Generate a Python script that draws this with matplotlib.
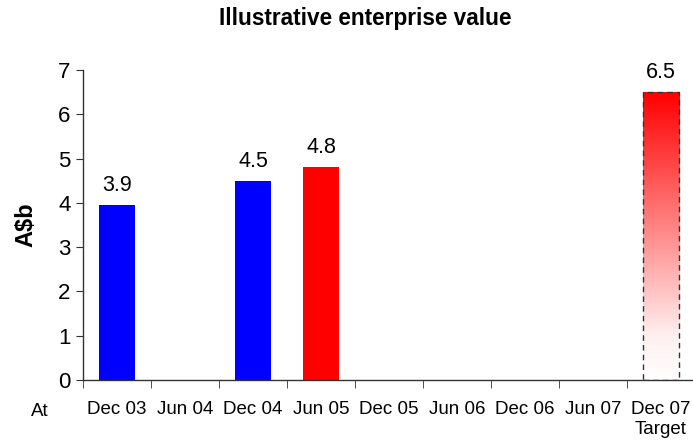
import matplotlib
matplotlib.use("Agg")
import matplotlib.pyplot as plt
import numpy as np
from matplotlib.colors import LinearSegmentedColormap

plt.rcParams['font.family'] = ['Liberation Sans', 'DejaVu Sans']

categories = ["Dec 03", "Jun 04", "Dec 04", "Jun 05", "Dec 05", "Jun 06", "Dec 06", "Jun 07", "Dec 07\nTarget"]
values = [3.95, None, 4.49, 4.81, None, None, None, None, 6.5]
labels = ["3.9", None, "4.5", "4.8", None, None, None, None, "6.5"]
kinds = ["blue", None, "blue", "red", None, None, None, None, "gradient"]
yticks = [0, 1, 2, 3, 4, 5, 6, 7]

fig = plt.figure(figsize=(6.93, 4.43), dpi=100)
ax = fig.add_axes([83 / 693, 63 / 443, 612 / 693, 310 / 443])

x = np.arange(len(categories))
width = 0.54
cmap = LinearSegmentedColormap.from_list("rw", [(0, "white"), (0.15, "#fff0f0"), (1, "red")])
for xi, v, lab, k in zip(x, values, labels, kinds):
    if v is None:
        continue
    if k == "gradient":
        bar = ax.bar(xi, v, width, facecolor="none", edgecolor="#333333",
                     linestyle=(0, (4, 3)), linewidth=1.0, zorder=3)[0]
        grad = np.linspace(0, 1, 256).reshape(-1, 1)
        im = ax.imshow(grad, cmap=cmap, origin="lower", aspect="auto",
                       extent=(xi - width / 2, xi + width / 2, 0, v), zorder=2)
        im.set_clip_path(bar)
    else:
        ax.bar(xi, v, width, color=k, zorder=2)
    ax.text(xi, v + 0.2, lab, ha="center", va="bottom", fontsize=15.5)

ax.set_xlim(-0.5, len(categories) - 0.5)
ax.set_ylim(0, 7)
ax.set_yticks(yticks)
ax.set_yticklabels([str(t) for t in yticks], fontsize=16)
ax.set_xticks(x)
ax.set_xticklabels(categories, fontsize=13.5, linespacing=1.25)
ax.set_xticks(np.arange(-0.5, len(categories), 1.0), minor=True)
ax.tick_params(axis="x", which="major", length=0, pad=15)
ax.tick_params(axis="x", which="minor", length=6, direction="out", color="#333333")
ax.tick_params(axis="y", length=5, direction="out", color="#333333", pad=4)
ax.spines["top"].set_visible(False)
ax.spines["right"].set_visible(False)
for s in ("left", "bottom"):
    ax.spines[s].set_color("#333333")
    ax.spines[s].set_linewidth(1.0)

ax.set_ylabel("A$b", fontsize=17, fontweight="bold", labelpad=15)
fig.text(40 / 693, 1 - 411 / 443, "At", ha="center", va="center", fontsize=13.5)
fig.suptitle("Illustrative enterprise value", x=365 / 693, y=1 - 18 / 443,
             va="center", fontsize=16.3, fontweight="bold")

fig.savefig("out.png", dpi=100)
